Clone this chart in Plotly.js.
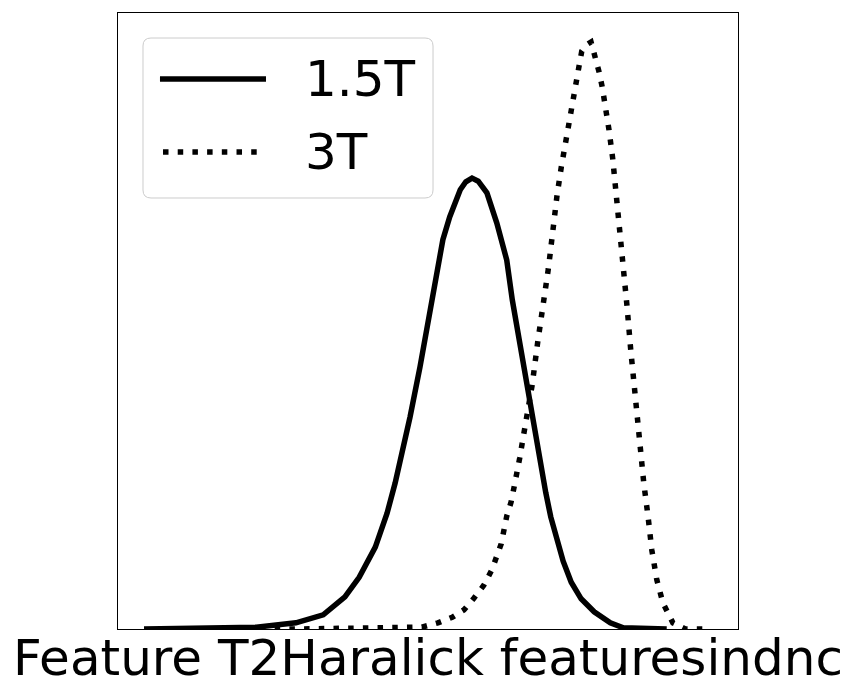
<!DOCTYPE html>
<html>
<head>
<meta charset="utf-8">
<script src="https://cdn.plot.ly/plotly-3.0.1.min.js"></script>
<style>html,body{margin:0;padding:0;background:#fff;}#chart{width:855px;height:693px;}</style>
</head>
<body>
<div id="chart"></div>
<script>
// 1.5T density curve (feature value, density)
const x15 = [4.2, 22.3, 28.7, 33.1, 36.6, 38.9, 41.5, 43.4, 44.7, 46.0, 47.1, 48.7, 50.3, 51.5, 52.4, 53.5, 55.2, 56.1, 57.1, 58.1, 59.5, 61.1, 62.7, 63.6, 64.7, 65.7, 66.8, 67.7, 68.4, 69.0, 69.8, 70.7, 71.8, 73.1, 74.7, 76.8, 79.4, 81.5, 88.5];
const y15 = [0.0, 0.3, 1.0, 2.3, 5.2, 8.4, 13.3, 18.8, 23.7, 29.1, 34.4, 42.5, 51.8, 57.8, 63.2, 66.9, 71.3, 72.6, 73.2, 72.7, 70.8, 65.9, 59.9, 53.4, 46.9, 40.9, 35.1, 29.6, 25.8, 22.1, 18.2, 14.8, 11.0, 7.6, 4.9, 2.8, 1.0, 0.2, 0.0];
// 3T density curve
const x3 = [22.9, 28.7, 49.0, 51.6, 53.9, 55.8, 57.4, 59.0, 60.3, 61.8, 62.7, 63.4, 63.9, 64.4, 64.8, 65.2, 65.6, 66.0, 66.8, 67.7, 68.4, 68.9, 69.4, 69.7, 70.2, 70.8, 71.5, 71.9, 72.6, 73.4, 73.9, 74.4, 74.8, 75.5, 76.3, 77.1, 77.6, 78.1, 78.5, 79.2, 79.8, 80.3, 80.8, 81.3, 81.6, 82.1, 82.7, 83.4, 83.9, 84.2, 84.8, 85.5, 86.1, 86.9, 87.9, 89.5, 91.5, 94.7];
const y3 = [0.0, 0.0, 0.3, 1.0, 1.9, 3.1, 5.0, 7.1, 9.6, 13.8, 18.3, 20.6, 23.1, 25.3, 27.8, 30.2, 32.5, 35.1, 39.6, 46.6, 51.3, 53.7, 58.4, 60.9, 65.6, 70.3, 75.0, 77.4, 82.1, 86.9, 89.3, 91.6, 93.8, 94.8, 95.3, 92.7, 90.4, 88.0, 85.7, 81.0, 76.3, 71.4, 66.7, 62.0, 57.1, 52.4, 45.3, 38.3, 33.4, 28.6, 23.7, 18.2, 12.8, 8.0, 4.2, 1.0, 0.0, 0.0];
const seriesNames = ["1.5T", "3T"];
const xTitle = "Feature T2Haralick featuresindnc";

const FONT = "DejaVu Sans, Liberation Sans, sans-serif";
const LW = 5.5;
const DOT = "5.5px,9.2px";
const FS = 50;

const traces = [
  {x: x15, y: y15, name: seriesNames[0], type: "scatter", mode: "lines",
   line: {color: "#000", width: LW, shape: "linear"}, showlegend: false},
  {x: x3, y: y3, name: seriesNames[1], type: "scatter", mode: "lines",
   line: {color: "#000", width: LW, dash: DOT, shape: "linear"}, showlegend: false}
];

// legend box geometry in paper units
const bx0 = 0.0403, bx1 = 0.5081, by0 = 0.6997, by1 = 0.9594, rx = 0.0129, ry = 0.013;
const boxPath = `M ${bx0+rx},${by0} L ${bx1-rx},${by0} Q ${bx1},${by0} ${bx1},${by0+ry} L ${bx1},${by1-ry} Q ${bx1},${by1} ${bx1-rx},${by1} L ${bx0+rx},${by1} Q ${bx0},${by1} ${bx0},${by1-ry} L ${bx0},${by0+ry} Q ${bx0},${by0} ${bx0+rx},${by0} Z`;

const layout = {
  width: 855, height: 693,
  margin: {l: 118, r: 117, t: 13, b: 64, pad: 0},
  paper_bgcolor: "#fff", plot_bgcolor: "#fff",
  showlegend: false,
  font: {family: FONT, color: "#000"},
  xaxis: {
    range: [0, 100], showgrid: false, zeroline: false, showticklabels: false, ticks: "",
    showline: true, mirror: true, linecolor: "#000", linewidth: 1,
    title: {text: xTitle, font: {family: FONT, size: FS, color: "#000"}, standoff: 10}
  },
  yaxis: {
    range: [0, 100], showgrid: false, zeroline: false, showticklabels: false, ticks: "",
    showline: true, mirror: true, linecolor: "#000", linewidth: 1
  },
  shapes: [
    {type: "path", xref: "paper", yref: "paper", path: boxPath,
     fillcolor: "rgba(255,255,255,0.8)", line: {color: "#cccccc", width: 1}, layer: "above"},
    {type: "line", xref: "paper", yref: "paper", x0: 0.0677, x1: 0.2387, y0: 0.8929, y1: 0.8929,
     line: {color: "#000", width: LW}, layer: "above"},
    {type: "line", xref: "paper", yref: "paper", x0: 0.0726, x1: 0.2290, y0: 0.7744, y1: 0.7744,
     line: {color: "#000", width: LW, dash: DOT}, layer: "above"}
  ],
  annotations: [
    {xref: "paper", yref: "paper", x: 0.298, y: 0.8929, xanchor: "left", yanchor: "middle",
     text: seriesNames[0], showarrow: false, font: {family: FONT, size: FS, color: "#000"}},
    {xref: "paper", yref: "paper", x: 0.298, y: 0.7744, xanchor: "left", yanchor: "middle",
     text: seriesNames[1], showarrow: false, font: {family: FONT, size: FS, color: "#000"}}
  ]
};

Plotly.newPlot("chart", traces, layout, {displayModeBar: false, responsive: false});
</script>
</body>
</html>
